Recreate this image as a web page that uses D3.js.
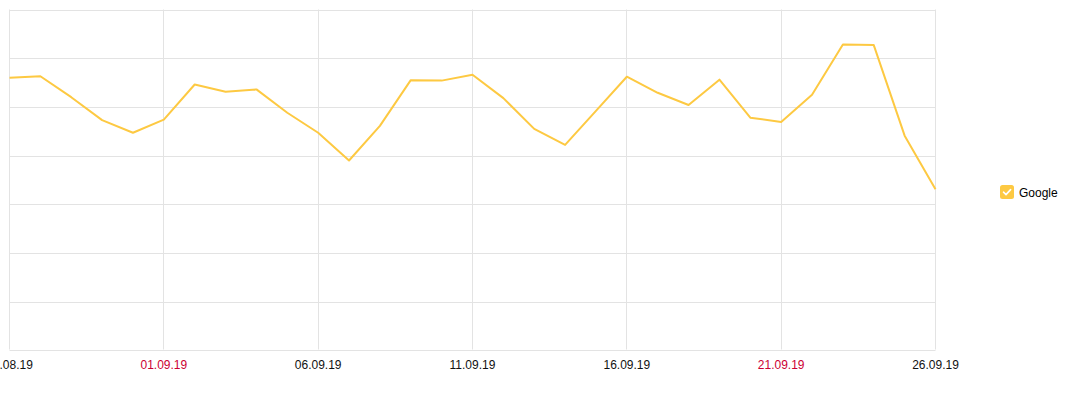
<!DOCTYPE html>
<html>
<head>
<meta charset="utf-8">
<script src="https://cdn.jsdelivr.net/npm/d3@7/dist/d3.min.js"></script>
<style>
  html, body { margin: 0; padding: 0; background: #fff; }
  svg { display: block; font-family: Arial, "Liberation Sans", sans-serif; }
</style>
</head>
<body>
<svg id="chart" width="1076" height="402"></svg>
<script>
// ---- data ----
const startDate = "2019-08-27";
const seriesName = "Google";
const values = [
  56.0, 56.3, 52.0, 47.3, 44.7, 47.4, 54.6, 53.1, 53.6, 48.8,
  44.7, 39.0, 46.1, 55.5, 55.4, 56.6, 51.8, 45.5, 42.2, 49.2,
  56.2, 52.9, 50.4, 55.6, 47.8, 46.9, 52.5, 62.8, 62.7, 44.1,
  33.1
];
const yTicks = [0, 10, 20, 30, 40, 50, 60, 70];
const tickEveryDays = 5;

(function () {
  // ---- layout ----
  const svg = d3.select("#chart");
  const mLeft = 9.5, mRight = 935.5, mTop = 9.5, mBottom = 350.5;
  const lineColor = "#fdc942";

  const parse = d3.utcParse("%Y-%m-%d");
  const d0 = parse(startDate);
  const dates = values.map((v, i) => d3.utcDay.offset(d0, i));
  const data = dates.map((d, i) => ({ date: d, value: values[i] }));

  const x = d3.scaleUtc().domain([dates[0], dates[dates.length - 1]]).range([mLeft, mRight]);
  const y = d3.scaleLinear().domain([yTicks[0], yTicks[yTicks.length - 1]]).range([mBottom, mTop]);

  const snapY = v => { let p = Math.round(y(v)) + 0.5; if (p > mBottom) p -= 1; return p; };

  // horizontal gridlines
  svg.append("g").selectAll("line").data(yTicks).join("line")
    .attr("x1", mLeft).attr("x2", mRight)
    .attr("y1", snapY).attr("y2", snapY)
    .attr("stroke", "#e3e3e3").attr("stroke-width", 1);

  // vertical gridlines + labels
  const xTicks = d3.utcDay.range(dates[0], d3.utcDay.offset(dates[dates.length - 1], 1), tickEveryDays);
  svg.append("g").selectAll("line").data(xTicks).join("line")
    .attr("x1", d => Math.floor(x(d)) + 0.5).attr("x2", d => Math.floor(x(d)) + 0.5)
    .attr("y1", mTop).attr("y2", mBottom - 1)
    .attr("stroke", "#e3e3e3").attr("stroke-width", 1);

  const fmt = d3.utcFormat("%d.%m.%y");
  svg.append("g").selectAll("text").data(xTicks).join("text")
    .attr("x", d => x(d))
    .attr("y", 369)
    .attr("text-anchor", "middle")
    .attr("font-size", 12)
    .attr("fill", d => (d.getUTCDay() === 0 || d.getUTCDay() === 6) ? "#cc0033" : "#111")
    .text(d => fmt(d));

  // line
  const line = d3.line().x(d => x(d.date)).y(d => y(d.value));
  svg.append("path").datum(data)
    .attr("d", line)
    .attr("fill", "none")
    .attr("stroke", lineColor)
    .attr("stroke-width", 2)
    .attr("stroke-linejoin", "round");

  // legend
  const lg = svg.append("g").attr("transform", "translate(1000,185)");
  lg.append("rect").attr("width", 14).attr("height", 14).attr("rx", 2.5).attr("fill", lineColor);
  lg.append("path").attr("d", "M3.5,7.2 L6,9.6 L10.6,4.6")
    .attr("fill", "none").attr("stroke", "#fff").attr("stroke-width", 1.6)
    .attr("stroke-linecap", "round").attr("stroke-linejoin", "round");
  lg.append("text").attr("x", 19).attr("y", 11.5).attr("font-size", 12).attr("fill", "#000").text(seriesName);
})();
</script>
</body>
</html>
